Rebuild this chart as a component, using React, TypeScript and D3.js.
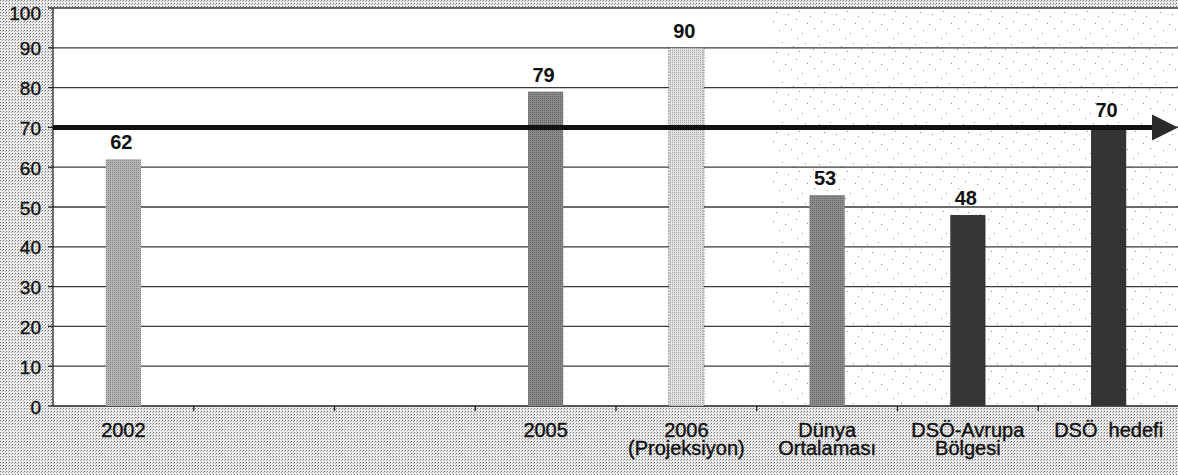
import React, { useEffect, useRef } from "react";
import * as d3 from "d3";

// Eight slots along the x axis; the two after 2002 are left empty.
const labelLines: string[][] = [
  ["2002"],
  [],
  [],
  ["2005"],
  ["2006", "(Projeksiyon)"],
  ["Dünya", "Ortalaması"],
  ["DSÖ-Avrupa", "Bölgesi"],
  ["DSÖ  hedefi"],
];
const values: (number | null)[] = [62, null, null, 79, 90, 53, 48, 70];
const barFills = ["#b4b4b4", "", "", "#8a8a8a", "#e2e2e2", "#8c8c8c", "#3a3a3a", "#383838"];
const targetValue = 70;
const yTicks = [0, 10, 20, 30, 40, 50, 60, 70, 80, 90, 100];

const W = 1178;
const H = 475;
const M = { left: 53, top: 8, right: 1179, bottom: 406 };
const FONT = "Arial, 'Liberation Sans', sans-serif";

export default function App() {
  const ref = useRef<SVGSVGElement>(null);

  useEffect(() => {
    const svg = d3.select(ref.current);
    svg.selectAll("*").remove();

    const defs = svg.append("defs");
    // halftone grey page texture
    const bg = defs
      .append("pattern")
      .attr("id", "halftone")
      .attr("width", 3)
      .attr("height", 3)
      .attr("patternUnits", "userSpaceOnUse");
    bg.append("rect").attr("width", 3).attr("height", 3).attr("fill", "#ececec");
    bg.append("rect").attr("x", 0).attr("y", 0).attr("width", 1).attr("height", 1).attr("fill", "#6e6e6e");
    bg.append("rect").attr("x", 2).attr("y", 1).attr("width", 1).attr("height", 1).attr("fill", "#a8a8a8");

    // sparse stipple used behind the reference-group bars
    const st = defs
      .append("pattern")
      .attr("id", "stipple")
      .attr("width", 48)
      .attr("height", 40)
      .attr("patternUnits", "userSpaceOnUse");
    const dots = [
      [3, 4], [14, 2], [25, 6], [37, 3], [45, 9], [8, 12], [20, 14], [31, 11], [42, 16],
      [5, 21], [17, 24], [28, 19], [39, 23], [11, 30], [23, 29], [34, 33], [46, 28], [2, 36], [29, 38],
    ];
    dots.forEach(([x, y]) =>
      st.append("rect").attr("x", x).attr("y", y).attr("width", 1).attr("height", 1).attr("fill", "#8a8a8a")
    );

    // bar textures
    const tex = (id: string, base: string, dot: string) => {
      const p = defs
        .append("pattern")
        .attr("id", id)
        .attr("width", 2)
        .attr("height", 2)
        .attr("patternUnits", "userSpaceOnUse");
      p.append("rect").attr("width", 2).attr("height", 2).attr("fill", base);
      p.append("rect").attr("width", 1).attr("height", 1).attr("fill", dot);
    };
    barFills.forEach((c, i) => {
      if (c) tex(`bar${i}`, c, d3.color(c)!.darker(0.9).toString());
    });

    svg.append("rect").attr("width", W).attr("height", H).attr("fill", "url(#halftone)");

    const x = d3
      .scaleBand<number>()
      .domain(d3.range(labelLines.length))
      .range([M.left, M.right])
      .paddingInner(0.75)
      .paddingOuter(0.375);
    const y = d3.scaleLinear().domain([0, 100]).range([M.bottom, M.top]);
    const step = x.step();
    const mid = (i: number) => x(i)! + x.bandwidth() / 2;

    // plot area
    svg
      .append("rect")
      .attr("x", M.left)
      .attr("y", M.top)
      .attr("width", W - M.left)
      .attr("height", M.bottom - M.top)
      .attr("fill", "#ffffff");
    const stippleX = x(5)! - step * 0.375 + 15;
    svg
      .append("rect")
      .attr("x", stippleX)
      .attr("y", M.top + 2)
      .attr("width", W - stippleX)
      .attr("height", M.bottom - M.top - 4)
      .attr("fill", "url(#stipple)");

    // gridlines
    svg
      .append("g")
      .selectAll("line")
      .data(yTicks.filter((t) => t > 0))
      .join("line")
      .attr("x1", M.left)
      .attr("x2", W)
      .attr("y1", (d) => y(d))
      .attr("y2", (d) => y(d))
      .attr("stroke", "#3a3a3a")
      .attr("stroke-width", 1.3);

    // y axis
    const yAxis = svg.append("g").attr("font-family", FONT);
    yAxis
      .append("line")
      .attr("x1", M.left)
      .attr("x2", M.left)
      .attr("y1", M.top)
      .attr("y2", M.bottom)
      .attr("stroke", "#222")
      .attr("stroke-width", 1.3);
    yAxis
      .selectAll("line.tick")
      .data(yTicks)
      .join("line")
      .attr("class", "tick")
      .attr("x1", M.left - 5)
      .attr("x2", M.left)
      .attr("y1", (d) => y(d))
      .attr("y2", (d) => y(d))
      .attr("stroke", "#222")
      .attr("stroke-width", 1.3);
    yAxis
      .selectAll("text")
      .data(yTicks)
      .join("text")
      .attr("x", 41)
      .attr("y", (d) => Math.max(y(d) + 7.5, 20))
      .attr("text-anchor", "end")
      .attr("font-size", 19)
      .attr("fill", "#111")
      .attr("stroke", "#111")
      .attr("stroke-width", 0.4)
      .text((d) => d);

    // x axis
    const xAxis = svg.append("g").attr("font-family", FONT);
    xAxis
      .append("line")
      .attr("x1", M.left)
      .attr("x2", W)
      .attr("y1", M.bottom)
      .attr("y2", M.bottom)
      .attr("stroke", "#222")
      .attr("stroke-width", 1.3);
    xAxis
      .selectAll("line.tick")
      .data(d3.range(1, labelLines.length))
      .join("line")
      .attr("class", "tick")
      .attr("x1", (i) => x(i)! - step * 0.375)
      .attr("x2", (i) => x(i)! - step * 0.375)
      .attr("y1", M.bottom)
      .attr("y2", M.bottom + 5)
      .attr("stroke", "#222")
      .attr("stroke-width", 1.3);
    labelLines.forEach((lines, i) => {
      lines.forEach((ln, k) =>
        xAxis
          .append("text")
          .attr("x", mid(i))
          .attr("y", 437 + k * 18)
          .attr("text-anchor", "middle")
          .attr("font-size", 20)
          .attr("fill", "#111")
          .attr("stroke", "#111")
          .attr("stroke-width", 0.4)
          .style("white-space", "pre")
          .text(ln)
      );
    });

    // bars
    const data = values.map((v, i) => ({ v, i })).filter((d) => d.v !== null) as { v: number; i: number }[];
    svg
      .append("g")
      .selectAll("rect")
      .data(data)
      .join("rect")
      .attr("x", (d) => x(d.i)!)
      .attr("y", (d) => y(d.v))
      .attr("width", x.bandwidth())
      .attr("height", (d) => y(0) - y(d.v))
      .attr("fill", (d) => `url(#bar${d.i})`)
      .attr("stroke", (d) => (d.i === 4 ? "#333" : "none"))
      .attr("stroke-width", 1)
      .attr("stroke-dasharray", (d) => (d.i === 4 ? "1 2" : null));

    // target arrow
    const ty = y(targetValue);
    svg
      .append("line")
      .attr("x1", M.left)
      .attr("x2", 1156)
      .attr("y1", ty)
      .attr("y2", ty)
      .attr("stroke", "#111")
      .attr("stroke-width", 5);
    svg
      .append("path")
      .attr("d", `M1152,${ty - 13}L${W},${ty}L1152,${ty + 13}Z`)
      .attr("fill", "#2a2a2a");

    // value labels
    svg
      .append("g")
      .selectAll("text")
      .data(data)
      .join("text")
      .attr("x", (d) => mid(d.i) - 2)
      .attr("y", (d) => y(d.v) - 10)
      .attr("text-anchor", "middle")
      .attr("font-family", FONT)
      .attr("font-weight", "bold")
      .attr("font-size", 20)
      .attr("fill", "#111")
      .text((d) => d.v);
  }, []);

  return (
    <svg
      ref={ref}
      width={W}
      height={H}
      style={{ position: "absolute", left: 0, top: 0, display: "block" }}
    />
  );
}
